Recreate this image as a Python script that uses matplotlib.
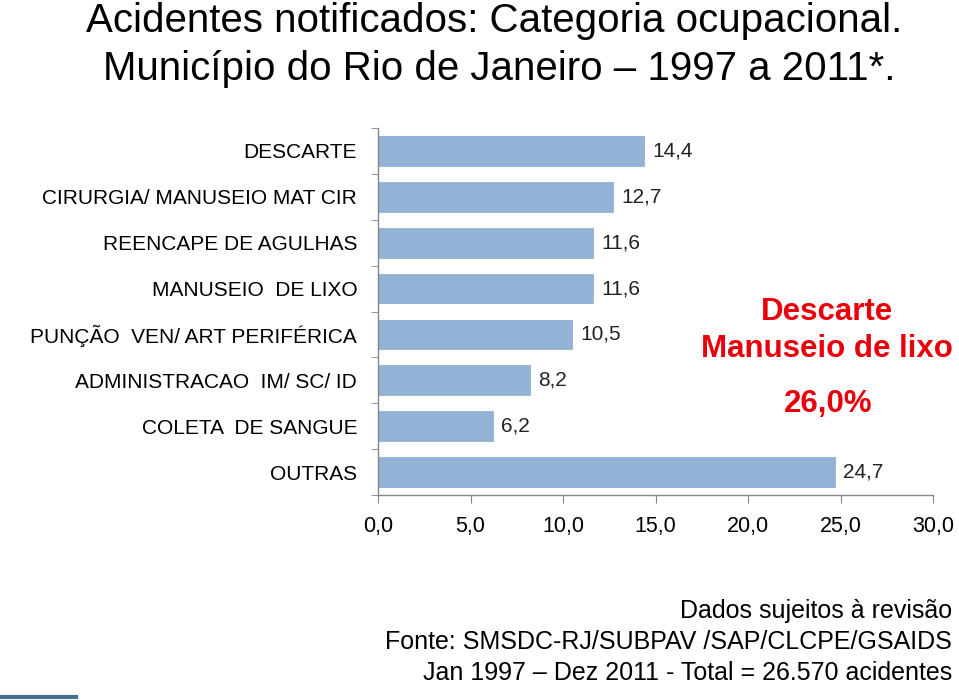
import matplotlib
matplotlib.use("Agg")
import matplotlib.pyplot as plt
import numpy as np

categories = ["DESCARTE", "CIRURGIA/ MANUSEIO MAT CIR", "REENCAPE DE AGULHAS",
              "MANUSEIO  DE LIXO", "PUNÇÃO  VEN/ ART PERIFÉRICA",
              "ADMINISTRACAO  IM/ SC/ ID", "COLETA  DE SANGUE", "OUTRAS"]
values = [14.4, 12.7, 11.6, 11.6, 10.5, 8.2, 6.2, 24.7]
value_labels = ["14,4", "12,7", "11,6", "11,6", "10,5", "8,2", "6,2", "24,7"]
xticks = [0, 5, 10, 15, 20, 25, 30]
xtick_labels = ["0,0", "5,0", "10,0", "15,0", "20,0", "25,0", "30,0"]

plt.rcParams['font.family'] = ['Liberation Sans', 'DejaVu Sans']

fig = plt.figure(figsize=(9.59, 7.0), dpi=100)
ax = fig.add_axes([378/959, 1-495/700, (933-378)/959, (495-128)/700])

y = np.arange(len(categories))
ax.barh(y, values, height=0.65, color="#93B3D6", edgecolor="#8AAACF", linewidth=0.5)
ax.set_ylim(len(categories)-0.5, -0.5)
ax.set_xlim(0, 30)

for yi, v, lab in zip(y, values, value_labels):
    ax.text(v + 0.45, yi, lab, va="center", ha="left", fontsize=15, color="#222222")

ax.set_yticks(y)
ax.set_yticklabels(categories, fontsize=15)
ax.tick_params(axis="y", which="major", length=0, pad=15)
ax.set_yticks(np.arange(-0.5, len(categories)), minor=True)
ax.tick_params(axis="y", which="minor", length=5, color="#868686", direction="out")

ax.set_xticks(xticks)
ax.set_xticklabels(xtick_labels, fontsize=15.5)
ax.tick_params(axis="x", length=6, color="#868686", pad=9)

for s in ["top", "right"]:
    ax.spines[s].set_visible(False)
for s in ["left", "bottom"]:
    ax.spines[s].set_color("#868686")
    ax.spines[s].set_linewidth(1.0)

# Title
fig.text(494/959, 1-32/700, "Acidentes notificados: Categoria ocupacional.",
         ha="center", va="baseline", fontsize=29)
fig.text(499/959, 1-80/700, "Município do Rio de Janeiro – 1997 a 2011*.",
         ha="center", va="baseline", fontsize=29)

# Red annotation
red = "#E8000B"
fig.text(827/959, 1-320/700, "Descarte", ha="center", va="baseline",
         fontsize=22.5, fontweight="bold", color=red)
fig.text(827/959, 1-357/700, "Manuseio de lixo", ha="center", va="baseline",
         fontsize=22.5, fontweight="bold", color=red)
fig.text(828/959, 1-412/700, "26,0%", ha="center", va="baseline",
         fontsize=22.5, fontweight="bold", color=red)

# Footer
fig.text(952/959, 1-618/700, "Dados sujeitos à revisão", ha="right", va="baseline", fontsize=18)
fig.text(952/959, 1-649/700, "Fonte: SMSDC-RJ/SUBPAV /SAP/CLCPE/GSAIDS", ha="right", va="baseline", fontsize=18)
fig.text(952/959, 1-680/700, "Jan 1997 – Dez 2011 - Total = 26.570 acidentes", ha="right", va="baseline", fontsize=18)

# small blue line at bottom-left
fig.add_artist(plt.Line2D([2/959, 76/959], [1-697/700, 1-697/700], color="#45718F", linewidth=3))

fig.savefig("out.png", dpi=100)
